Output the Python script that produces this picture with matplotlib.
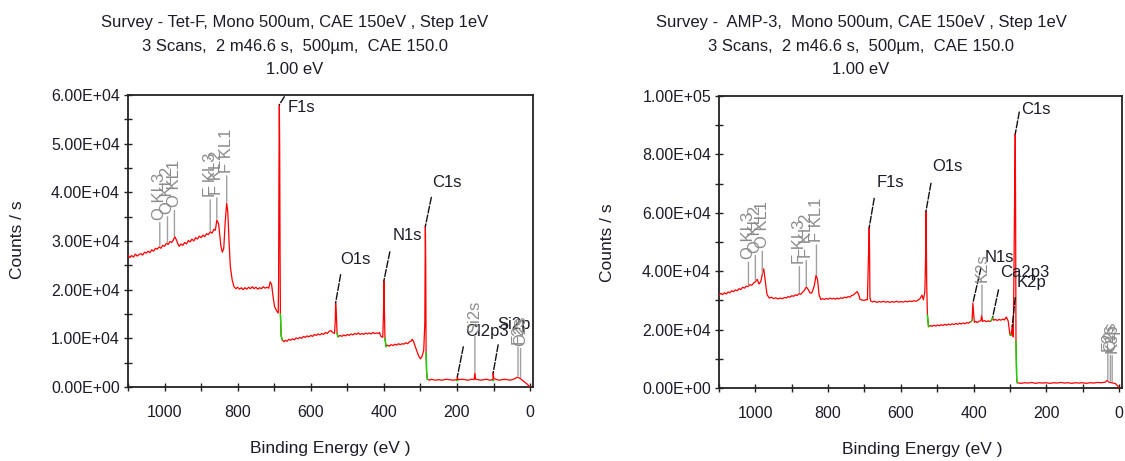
import numpy as np
import matplotlib.pyplot as plt
from matplotlib.ticker import MultipleLocator, FuncFormatter

plt.rcParams['font.family'] = ['Liberation Sans', 'DejaVu Sans']

# Tet-F survey: (binding energy eV, counts / s)
tetf_points = [
    (1100, 27100), (1095, 26600), (1090, 27000), (1085, 26700), (1080, 27300),
    (1075, 26900), (1070, 27200), (1065, 27400), (1060, 27100), (1055, 27700),
    (1050, 27500), (1045, 27900), (1040, 27600), (1035, 28200), (1030, 27900),
    (1025, 28500), (1020, 28300), (1015, 28800), (1010, 28500), (1005, 29100),
    (1000, 28900), (995, 29500), (990, 29300), (985, 29900), (980, 29700),
    (976, 30200), (972, 30900), (968, 30300), (964, 29500), (960, 28900),
    (955, 29400), (950, 29100), (945, 29700), (940, 29400), (935, 30100),
    (930, 29800), (925, 30400), (920, 30000), (915, 30700), (910, 30400),
    (905, 31000), (900, 30700), (895, 31200), (890, 30900), (885, 31500),
    (880, 31300), (875, 31900), (870, 31600), (865, 32400), (861, 32200),
    (857, 34300), (852, 33500), (846, 29000), (842, 27700), (838, 28500),
    (834, 34000), (830, 37800), (827, 36000), (823, 29000), (820, 24700),
    (815, 22000), (810, 20600), (805, 20200), (800, 20500), (795, 20100),
    (790, 20400), (785, 20000), (780, 20400), (775, 20100), (770, 20500),
    (765, 20200), (760, 20600), (755, 20200), (750, 20500), (745, 20100),
    (740, 20400), (735, 20200), (730, 20600), (725, 20300), (720, 20500),
    (715, 20300), (711, 21600), (707, 21000), (703, 18500), (699, 16500),
    (693, 15600), (689, 15200), (688, 22000), (687, 45000), (686, 58000),
    (685, 49000), (684, 28000), (683, 15000), (681, 10500), (678, 9700),
    (674, 9300), (670, 9600), (665, 9400), (660, 9800), (655, 9600),
    (650, 9900), (645, 9700), (640, 10100), (635, 9900), (630, 10200),
    (625, 10000), (620, 10400), (615, 10200), (610, 10500), (605, 10300),
    (600, 10600), (595, 10400), (590, 10800), (585, 10600), (580, 10900),
    (575, 10700), (570, 11000), (565, 10800), (560, 11200), (555, 11000),
    (550, 11400), (545, 11600), (540, 11200), (535, 11000), (533, 13500),
    (532, 17300), (530, 15000), (528, 11000), (525, 10300), (520, 10600),
    (515, 10400), (510, 10700), (505, 10500), (500, 10800), (495, 10600),
    (490, 10900), (485, 10700), (480, 11000), (475, 10800), (470, 11100),
    (465, 10800), (460, 11000), (455, 10800), (450, 11100), (445, 10900),
    (440, 11100), (435, 10900), (430, 11200), (425, 11000), (420, 11100),
    (415, 11000), (412, 11200), (408, 10400), (403, 10200), (401, 15000),
    (400, 21800), (399, 18000), (397, 10000), (394, 8300), (390, 8600),
    (385, 8400), (380, 8700), (375, 8500), (370, 8800), (365, 8600),
    (360, 8900), (355, 8700), (350, 8900), (345, 8800), (340, 9100),
    (335, 8900), (330, 9300), (326, 9400), (322, 9800), (318, 9200),
    (315, 8500), (305, 6400), (300, 5800), (296, 6200), (291, 7500),
    (288, 13000), (286.5, 33000), (285.5, 26000), (284.5, 7000), (283, 3000),
    (281, 1600), (275, 1400), (270, 1600), (260, 1400), (250, 1500),
    (240, 1400), (230, 1600), (220, 1500), (210, 1400), (203, 1500),
    (200, 1500), (199, 2100), (197, 1500), (185, 1600), (170, 1400),
    (160, 1600), (153, 1500), (151, 2900), (149, 1600), (135, 1400),
    (120, 1600), (110, 1400), (104, 1500), (101.5, 1500), (101, 2900),
    (99, 1700), (85, 1400), (70, 1600), (55, 1400), (45, 1600),
    (35, 2000), (28, 1800), (18, 1200), (8, 600), (0, 0),
]

# AMP-3 survey
amp_points = [
    (1100, 31800), (1095, 32400), (1090, 32000), (1085, 32600), (1080, 32200),
    (1075, 32900), (1070, 32600), (1065, 33300), (1060, 33000), (1055, 33600),
    (1050, 33300), (1045, 34000), (1040, 33700), (1035, 34500), (1030, 34200),
    (1025, 34900), (1020, 34700), (1015, 35400), (1010, 35200), (1005, 35900),
    (1000, 36400), (995, 37200), (990, 35600), (985, 36500), (980, 39500),
    (977, 40800), (973, 37000), (968, 32000), (962, 30800), (956, 31100),
    (950, 30600), (944, 30900), (938, 30500), (932, 30800), (926, 30600),
    (920, 31000), (915, 30800), (910, 31300), (905, 31100), (900, 31600),
    (895, 31400), (890, 31900), (885, 31700), (880, 32300), (875, 32100),
    (870, 32800), (865, 33500), (860, 34600), (855, 33800), (850, 32600),
    (845, 32500), (838, 35000), (833, 38700), (829, 37000), (825, 32000),
    (820, 30300), (815, 30600), (810, 30300), (805, 30700), (800, 30400),
    (795, 30800), (790, 30500), (785, 30700), (780, 30400), (775, 30800),
    (770, 30500), (765, 30900), (760, 30700), (755, 31100), (750, 30900),
    (745, 31300), (740, 31100), (735, 31700), (730, 31900), (725, 32500),
    (720, 33000), (716, 32000), (712, 30300), (706, 30100), (700, 30000),
    (695, 30300), (692, 30200), (690, 40000), (688, 50000), (687, 55000),
    (686, 47000), (685, 31000), (683, 29800), (678, 29500), (672, 29700),
    (666, 29300), (660, 29600), (654, 29400), (648, 29700), (642, 29400),
    (636, 29600), (630, 29300), (624, 29600), (618, 29400), (612, 29700),
    (606, 29400), (600, 29600), (594, 29400), (588, 29700), (582, 29500),
    (576, 29800), (570, 29600), (564, 29900), (558, 29700), (552, 30200),
    (548, 30500), (542, 31800), (538, 30200), (534, 33000), (532, 45000),
    (531, 60500), (530, 52000), (529, 36000), (527, 25000), (524, 21000),
    (519, 21400), (514, 21100), (509, 21500), (504, 21200), (499, 21600),
    (494, 21300), (489, 21700), (484, 21400), (479, 21800), (474, 21500),
    (469, 21900), (464, 21600), (459, 22000), (454, 21700), (449, 22100),
    (444, 21800), (439, 22200), (434, 21900), (429, 22300), (424, 22000),
    (419, 22400), (414, 22200), (410, 22600), (406, 22800), (404, 23300),
    (402, 29100), (400, 26000), (398, 22500), (394, 22800), (390, 22400),
    (385, 22900), (380, 23000), (378, 25000), (375, 22800), (370, 23100),
    (365, 22700), (360, 23000), (356, 22800), (352, 23000), (348, 24000),
    (345, 23200), (340, 23500), (335, 23100), (330, 23500), (325, 23200),
    (320, 23600), (315, 23300), (310, 24300), (305, 23000), (300, 18200),
    (297, 18000), (294, 21000), (291, 17500), (289, 40000), (287, 70000),
    (285.5, 87000), (284.5, 60000), (283.5, 16000), (282.5, 9000), (281.5, 3000),
    (280, 1800), (270, 1600), (260, 1800), (250, 1700), (240, 1900),
    (230, 1600), (220, 1800), (210, 1700), (200, 1800), (190, 1600),
    (180, 1800), (170, 1700), (160, 1900), (150, 1700), (140, 1800),
    (130, 1600), (120, 1800), (110, 1700), (100, 1800), (90, 1600),
    (80, 1800), (70, 1700), (60, 1900), (50, 1800), (38, 2000),
    (33, 2600), (28, 2000), (20, 1800), (10, 1500), (3, 600), (0, 0),
]

# background regions (high, low binding energy) drawn in green
tetf_bg = [(683, 678), (528, 525), (397, 394), (284.5, 281), (203, 200), (104, 101.5)]
amp_bg = [(527, 524), (406, 404), (352, 348), (300, 297), (283.5, 280)]

# peak labels: name, energy, leader end offset (pt), text offset (pt)
tetf_peaks = [('F1s', 686, (3.6, 5.8), (5.8, -2.2)),
              ('O1s', 532, (3.6, 20.2), (3.6, 31)),
              ('N1s', 400, (4.3, 20.9), (6.5, 32.4)),
              ('C1s', 286.5, (4.3, 20.9), (5, 31.7)),
              ('Cl2p3', 199, (4.3, 21.6), (5.8, 32.4)),
              ('Si2p', 101, (3.6, 20.2), (2.9, 34.6))]
amp_peaks = [('F1s', 687, (3.6, 20.9), (5, 32.4)),
             ('O1s', 531, (3.6, 20.2), (4.3, 32.4)),
             ('C1s', 285.5, (2.9, 15.8), (4.3, 17.3)),
             ('N1s', 402, (5.8, 25.2), (8.6, 33.1)),
             ('Ca2p3', 348, (4.3, 20.2), (5.8, 32.4)),
             ('K2p', 294, (2.2, 20.9), (2.9, 31.7))]

# library markers: name, energy, marker line length (pt)
tetf_lib = [('O KL3', 1013, 20), ('O KL2', 992, 21.6), ('O KL1', 973, 21.6),
            ('F KL3', 875, 25), ('F KL2', 857, 18), ('F KL1', 830, 21.6),
            ('Si2s', 151, 28.8), ('F2s', 33, 23.8), ('O2s', 26, 23.8)]
amp_lib = [('O KL3', 1019, 19.4), ('O KL2', 1000, 21), ('O KL1', 981, 18.7),
           ('F KL3', 879, 21.6), ('F KL2', 860, 21), ('F KL1', 832, 24.5),
           ('K2s', 377, 25), ('F2s', 31, 21.6), ('O2s', 24, 21.6), ('K3p', 19, 21.6)]

tetf_title = ['Survey - Tet-F, Mono 500um, CAE 150eV , Step 1eV',
              '3 Scans,  2 m46.6 s,  500µm,  CAE 150.0',
              '1.00 eV']
amp_title = ['Survey -  AMP-3,  Mono 500um, CAE 150eV , Step 1eV',
             '3 Scans,  2 m46.6 s,  500µm,  CAE 150.0',
             '1.00 eV']

W, H = 1125, 461
fig = plt.figure(figsize=(W / 100, H / 100), dpi=100)


def fx(x):
    return x / W


def fy(y):
    return 1 - y / H


def survey(ax, points, bg, peaks, lib, ymax, ystep):
    be, cps = (np.asarray(v, float) for v in zip(*points))
    ax.plot(be, cps, color='#ff0000', lw=0.9, zorder=3)
    for hi, lo in bg:
        m = (be <= hi) & (be >= lo)
        ax.plot(be[m], cps[m], color='#00dd00', lw=1.0, zorder=4)

    order = np.argsort(be)
    for name, e, (lx, ly), (tx, ty) in peaks:
        y = np.interp(e, be[order], cps[order])
        ax.annotate('', xy=(e, y), xytext=(lx, ly), textcoords='offset points',
                    arrowprops=dict(arrowstyle='-', lw=1, color='#111111',
                                    ls=(0, (5, 1.5)), shrinkA=0, shrinkB=0))
        ax.annotate(name, xy=(e, y), xytext=(tx, ty), textcoords='offset points',
                    ha='left', va='center', fontsize=12, color='#1c1c28',
                    annotation_clip=False)
    for name, e, length in lib:
        y = np.interp(e, be[order], cps[order])
        ax.annotate(name, xy=(e, y), xytext=(0, length), textcoords='offset points',
                    rotation=90, ha='center', va='bottom', fontsize=12, color='#8c8c8c',
                    arrowprops=dict(arrowstyle='-', color='#a0a0a0', lw=1,
                                    relpos=(0.5, 0), shrinkA=0, shrinkB=1))

    ax.set_xlim(1100, -8)
    ax.set_ylim(0, ymax)
    ax.xaxis.set_major_locator(MultipleLocator(200))
    ax.xaxis.set_minor_locator(MultipleLocator(100))
    ax.yaxis.set_major_locator(MultipleLocator(ystep))
    ax.yaxis.set_minor_locator(MultipleLocator(ystep / 2))
    ax.yaxis.set_major_formatter(FuncFormatter(lambda v, p: '%.2E' % v))
    ax.tick_params(which='both', direction='inout', length=5.5, width=1,
                   color='#222222', labelcolor='#1c1c28', labelsize=11.5)
    ax.tick_params(axis='y', pad=3)
    ax.tick_params(axis='x', pad=10)
    for s in ax.spines.values():
        s.set_linewidth(1.3)
        s.set_color('#222222')


# left panel
ax1 = fig.add_axes([fx(128), fy(387), fx(533) - fx(128), fy(95) - fy(387)])
survey(ax1, tetf_points, tetf_bg, tetf_peaks, tetf_lib, 6e4, 1e4)

# right panel
ax2 = fig.add_axes([fx(719), fy(388), fx(1122) - fx(719), fy(96) - fy(388)])
survey(ax2, amp_points, amp_bg, amp_peaks, amp_lib, 1e5, 2e4)

for cx, lines in [(295, tetf_title), (861, amp_title)]:
    for ty, line in zip([23, 46, 70], lines):
        fig.text(fx(cx), fy(ty), line, ha='center', va='center', fontsize=12, color='#1c1c28')

for cx, cy in [(18, 240), (607, 243)]:
    fig.text(fx(cx), fy(cy), 'Counts / s', rotation=90, ha='center', va='center',
             fontsize=12.5, color='#1c1c28')
for cx, cy in [(330, 448), (922, 449)]:
    fig.text(fx(cx), fy(cy), 'Binding Energy (eV )', ha='center', va='center',
             fontsize=12.5, color='#1c1c28')

fig.savefig('out.png', dpi=100)
